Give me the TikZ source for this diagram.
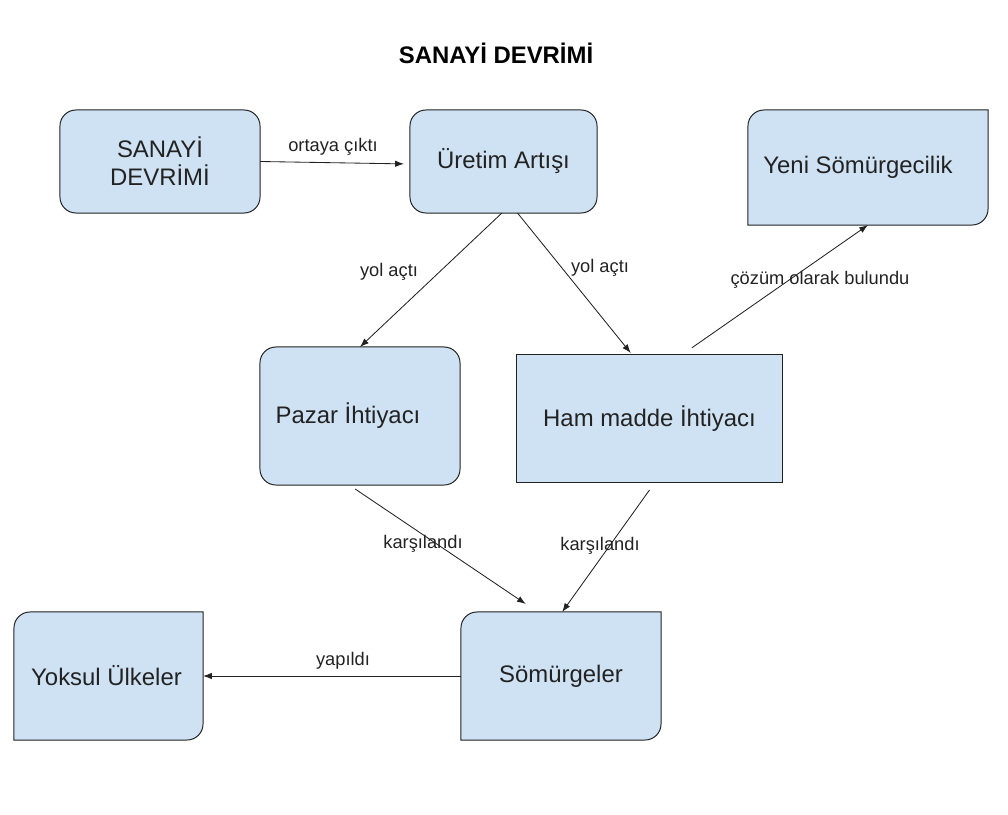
\documentclass[tikz,border=0pt]{standalone}
\usepackage{fontspec}
\setmainfont{Liberation Sans}
\usetikzlibrary{arrows.meta,backgrounds}
\definecolor{boxblue}{HTML}{CFE2F3}
\definecolor{inkgray}{HTML}{222222}
\tikzset{box/.style={draw=inkgray, fill=boxblue, line width=0.7pt, rounded corners=0.4cm, outer sep=0pt,
                     font=\fontsize{17}{20}\selectfont, text=inkgray, align=center},
         sqbox/.style={box, rounded corners=0pt},
         diagbox/.style={box, draw=none, fill=none},
         lbl/.style={font=\fontsize{13}{15}\selectfont, text=inkgray},
         arr/.style={-{Latex[length=2.2mm,width=1.6mm]}, line width=0.6pt, draw=inkgray}}
% box with only top-left and bottom-right corners rounded
\newcommand{\diagfill}[1]{%
  \begin{scope}[on background layer]
    \draw[draw=inkgray, fill=boxblue, line width=0.7pt]
      ([yshift=-0.4cm]#1.north west) arc[start angle=180, end angle=90, radius=0.4cm]
      -- (#1.north east) -- ([yshift=0.4cm]#1.south east)
      arc[start angle=0, end angle=-90, radius=0.4cm] -- (#1.south west) -- cycle;
  \end{scope}}
\begin{document}
\begin{tikzpicture}[x=0.025cm, y=-0.025cm]
    \useasboundingbox (0,0) rectangle (1008,815);

    \node[font=\fontsize{17}{20}\selectfont\bfseries] (title) at (496,53) {SANAYİ DEVRİMİ};

    % boxes
    \node[box, minimum width=5cm, minimum height=2.575cm] (sd) at (160,161.5) {SANAYİ\\DEVRİMİ};
    \node[box, minimum width=4.675cm, minimum height=2.575cm] (ur) at (503.5,161.5) {Üretim Artışı};
    \node[diagbox, minimum width=6cm, minimum height=2.875cm] (ys) at (868,167.5) {Yeni Sömürgecilik\hspace*{0.5cm}};
    \diagfill{ys}
    \node[box, minimum width=5cm, minimum height=3.45cm] (pi) at (360,416) {Pazar İhtiyacı\hspace*{0.6cm}};
    \node[sqbox, minimum width=6.625cm, minimum height=3.175cm] (hm) at (649.5,418.5) {Ham madde İhtiyacı};
    \node[diagbox, minimum width=5cm, minimum height=3.2cm] (so) at (561,676) {Sömürgeler};
    \diagfill{so}
    \node[diagbox, minimum width=4.725cm, minimum height=3.2cm] (yu) at (108.5,676) {Yoksul Ülkeler\hspace*{0.1cm}};
    \diagfill{yu}

    % connectors
    \draw[arr] (sd.east) -- ([xshift=-0.15cm,yshift=-0.06cm]ur.west);
    \draw[arr] ([xshift=-0.04cm]ur.south) -- (pi.north);
    \draw[arr] ([xshift=0.35cm]ur.south) -- ([xshift=-0.47cm,yshift=0.05cm]hm.north);
    \draw[arr] ([xshift=1.06cm,yshift=0.18cm]hm.north) -- (ys.south);
    \draw[arr] ([xshift=-0.12cm,yshift=-0.1cm]pi.south) -- ([xshift=-0.88cm,yshift=0.2cm]so.north);
    \draw[arr] ([yshift=-0.2cm]hm.south) -- ([xshift=0.03cm]so.north);
    \draw[arr] (so.west) -- (yu.east);

    % labels
    \node[lbl] (l1) at (333,147) {ortaya çıktı};
    \node[lbl] (l2) at (389,272) {yol açtı};
    \node[lbl] (l3) at (600,268) {yol açtı};
    \node[lbl] (l4) at (820,280) {çözüm olarak bulundu};
    \node[lbl] (l5) at (423,544) {karşılandı};
    \node[lbl] (l6) at (600,546) {karşılandı};
    \node[lbl] (l7) at (343,661) {yapıldı};
\end{tikzpicture}
\end{document}
